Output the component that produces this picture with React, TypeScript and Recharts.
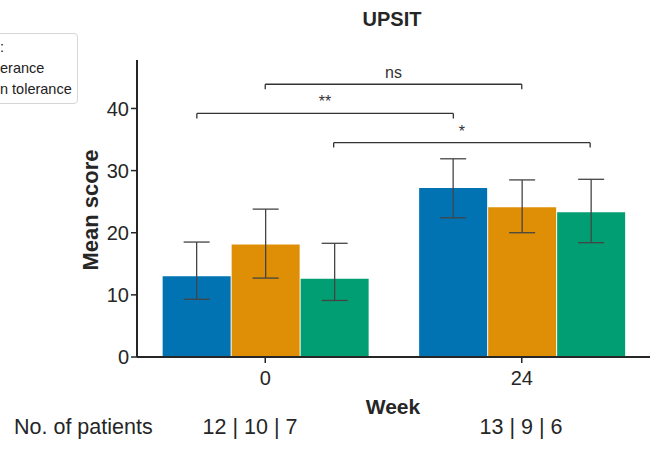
import { BarChart, Bar, XAxis, YAxis, ErrorBar, ReferenceLine } from 'recharts';

const weeks = ['0', '24'];
const seriesKeys = ['blue', 'orange', 'green'];
const seriesColors = ['#0173B2', '#DE8F05', '#029E73'];

const meanBlue = [13.0, 27.2];
const meanOrange = [18.1, 24.1];
const meanGreen = [12.6, 23.3];

const lowBlue = [9.3, 22.4];
const lowOrange = [12.7, 20.0];
const lowGreen = [9.1, 18.4];

const highBlue = [18.5, 31.9];
const highOrange = [23.8, 28.5];
const highGreen = [18.3, 28.6];

const yTicks = [0, 10, 20, 30, 40];
const patientCounts = ['12 | 10 | 7', '13 | 9 | 6'];

// significance brackets: series index, y level, label
const brackets = [
  { series: 1, y: 43.9, label: 'ns' },
  { series: 0, y: 39.2, label: '**' },
  { series: 2, y: 34.5, label: '*' },
];

const means = [meanBlue, meanOrange, meanGreen];
const lows = [lowBlue, lowOrange, lowGreen];
const highs = [highBlue, highOrange, highGreen];

const data = weeks.map((week, i) => {
  const row: Record<string, any> = { week };
  seriesKeys.forEach((k, s) => {
    row[k] = means[s][i];
    row[k + 'Err'] = [means[s][i] - lows[s][i], highs[s][i] - means[s][i]];
  });
  return row;
});

// bar centre as a 0..1 fraction of the plot width (for the hidden numeric axis)
const GAP = 0.1;
const barPos = (group: number, series: number) =>
  (group + GAP + ((1 - 2 * GAP) / 3) * (series + 0.5)) / weeks.length;

const FONT = '"Liberation Sans", Arial, sans-serif';
const INK = '#262626';
const TICK_DROP = 0.8;

export default function App() {
  return (
    <div style={{ position: 'absolute', left: 0, top: 0, width: 659, height: 449, fontFamily: FONT, color: INK, overflow: 'hidden', background: '#fff' }}>
      <BarChart
        width={659}
        height={449}
        data={data}
        margin={{ top: 60, right: 9, bottom: 62, left: 77 }}
        barCategoryGap="10%"
        barGap={1}
      >
        <XAxis
          dataKey="week"
          height={30}
          axisLine={{ stroke: INK, strokeWidth: 2 }}
          tickLine={{ stroke: INK, strokeWidth: 1.5 }}
          tickSize={6}
          tickMargin={8}
          tick={{ fontSize: 20, fill: INK, fontFamily: FONT }}
        />
        <XAxis xAxisId="pos" type="number" domain={[0, 1]} allowDataOverflow hide />
        <YAxis
          width={60}
          domain={[0, 47.8]}
          ticks={yTicks}
          axisLine={{ stroke: INK, strokeWidth: 2 }}
          tickLine={{ stroke: INK, strokeWidth: 1.5 }}
          tickSize={6}
          tickMargin={2}
          tick={{ fontSize: 20, fill: INK, fontFamily: FONT }}
        />
        {seriesKeys.map((k, s) => (
          <Bar key={k} dataKey={k} fill={seriesColors[s]} isAnimationActive={false}>
            <ErrorBar dataKey={k + 'Err'} width={13} stroke="#444" strokeWidth={1.3} direction="y" />
          </Bar>
        ))}
        {brackets.map((b, i) => {
          const x1 = barPos(0, b.series);
          const x2 = barPos(1, b.series);
          return [
            <ReferenceLine
              key={'h' + i}
              xAxisId="pos"
              segment={[{ x: x1, y: b.y }, { x: x2, y: b.y }]}
              stroke="#333"
              strokeWidth={1.3}
              label={{ value: b.label, position: 'top', offset: 6, fontSize: 16, fill: '#333', fontFamily: FONT }}
            />,
            <ReferenceLine
              key={'l' + i}
              xAxisId="pos"
              segment={[{ x: x1, y: b.y }, { x: x1, y: b.y - TICK_DROP }]}
              stroke="#333"
              strokeWidth={1.3}
            />,
            <ReferenceLine
              key={'r' + i}
              xAxisId="pos"
              segment={[{ x: x2, y: b.y }, { x: x2, y: b.y - TICK_DROP }]}
              stroke="#333"
              strokeWidth={1.3}
            />,
          ];
        })}
      </BarChart>

      <div style={{ position: 'absolute', left: 25, top: 198, width: 130, textAlign: 'center', whiteSpace: 'nowrap', fontSize: 22, fontWeight: 'bold', transform: 'rotate(-90deg)', transformOrigin: '65px 12px' }}>Mean score</div>
      <div style={{ position: 'absolute', left: 342, width: 100, top: 8, textAlign: 'center', fontSize: 20, fontWeight: 'bold' }}>UPSIT</div>
      <div style={{ position: 'absolute', left: 343, width: 100, top: 395, textAlign: 'center', fontSize: 21, fontWeight: 'bold' }}>Week</div>
      <div style={{ position: 'absolute', left: 14, top: 415, fontSize: 21.5, whiteSpace: 'nowrap' }}>No. of patients</div>
      {patientCounts.map((t, i) => (
        <div key={t} style={{ position: 'absolute', left: [250, 521][i] - 70, width: 140, top: 415, textAlign: 'center', fontSize: 21.5 }}>{t}</div>
      ))}

      <div style={{ position: 'absolute', left: -20, top: 33, width: 96, height: 69, border: '1px solid #d6d6d6', borderRadius: 4, background: '#fff' }} />
      <div style={{ position: 'absolute', left: 0, top: 37, fontSize: 14.5, lineHeight: '21px', color: '#222', whiteSpace: 'nowrap' }}>
        <div>:</div>
        <div>erance</div>
        <div>n tolerance</div>
      </div>
    </div>
  );
}
